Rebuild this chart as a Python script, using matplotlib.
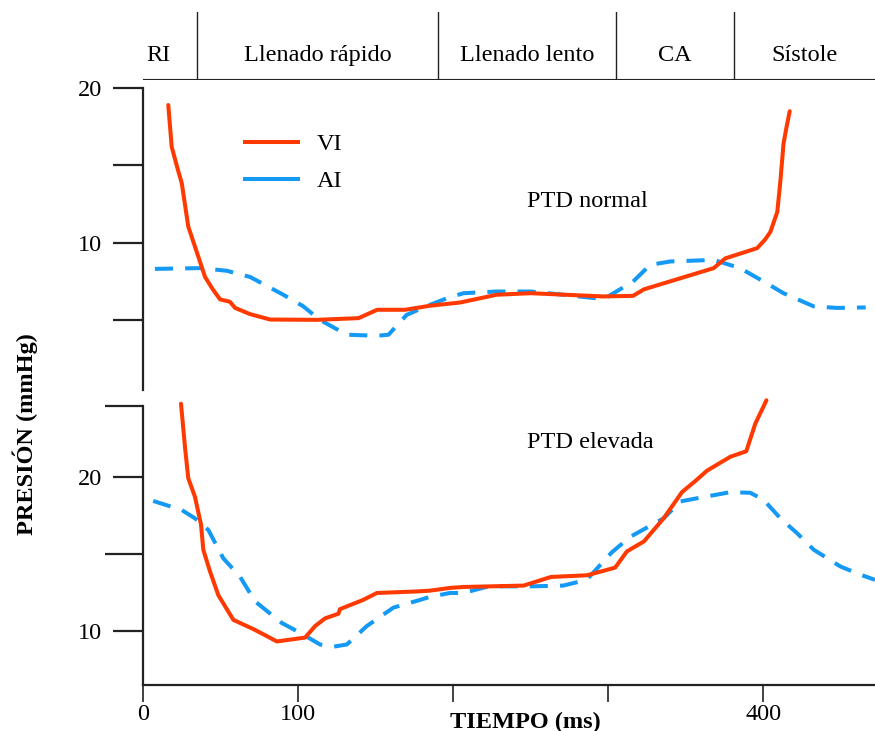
import matplotlib
matplotlib.use("Agg")
import matplotlib.pyplot as plt
from matplotlib.lines import Line2D

plt.rcParams['font.family'] = ['Liberation Serif', 'DejaVu Serif']

ROJO = '#FF3A00'
AZUL = '#1499F5'
NEGRO = '#222222'
FS = 17.5

# fases del ciclo (ms)
fases = ['RI', 'Llenado rápido', 'Llenado lento', 'CA', 'Sístole']
limites_fase = [0, 35, 190, 305, 381, 472]

# PTD normal
t_vi_n = [16.3, 18.5, 22, 25, 29.2, 35.7, 40, 45, 49.7, 56, 59.4, 69, 82, 112, 139, 151, 169,
          185, 204.5, 228, 250, 297, 316, 323, 368, 375.5, 396, 401, 404.5, 409, 411, 413, 415, 417]
p_vi_n = [18.9, 16.2, 14.9, 13.85, 11.05, 9.1, 7.8, 7.0, 6.35, 6.2, 5.8, 5.4, 5.05, 5.03, 5.14, 5.68, 5.68,
          5.94, 6.15, 6.65, 6.75, 6.54, 6.58, 7.0, 8.37, 9.0, 9.66, 10.2, 10.7, 12.0, 14.0, 16.4, 17.5, 18.5]
t_ai_n = [7.7, 36.8, 54, 69, 90.5, 103.4, 114, 131.4, 151, 158.3, 170, 185, 198, 206.7, 228, 250,
          271, 297, 316, 327, 340, 368, 385, 402, 413, 432.5, 447.5, 466]
p_ai_n = [8.32, 8.37, 8.2, 7.8, 6.65, 5.9, 5.03, 4.07, 4.0, 4.07, 5.35, 6.0, 6.5, 6.75, 6.86, 6.86,
          6.65, 6.37, 7.5, 8.58, 8.8, 8.9, 8.37, 7.4, 6.75, 5.9, 5.8, 5.83]

# PTD elevada
t_vi_e = [24.5, 27.1, 29.2, 33.5, 37.4, 38.9, 43.2, 48.6, 58.3, 71.2, 79.8, 86.3, 104.5, 111, 117.4,
          126, 127, 142, 150.8, 176.6, 185, 198, 206.7, 245.4, 263, 286.3, 304.5, 312, 323, 335.7,
          347.5, 357, 363.7, 378.7, 389, 394.8, 402]
p_vi_e = [24.75, 21.9, 19.9, 18.7, 16.9, 15.25, 13.85, 12.3, 10.7, 10.1, 9.65, 9.3, 9.55, 10.3, 10.8,
          11.1, 11.4, 12.0, 12.45, 12.55, 12.6, 12.78, 12.84, 12.93, 13.49, 13.6, 14.1, 15.15, 15.8, 17.3,
          19.0, 19.8, 20.4, 21.3, 21.66, 23.45, 24.97]
t_ai_e = [6.6, 25, 33.5, 42.1, 51.8, 62.6, 72.3, 89.5, 101.3, 114.2, 122.8, 131.4, 144.3, 161.5, 178.7,
          185, 198, 206.7, 222.8, 249.7, 271, 286, 302.4, 314.2, 335.7, 346.6, 357, 378.7, 391.6, 400.2,
          411, 421.7, 432.5, 449.7, 462.6, 472]
p_ai_e = [18.43, 17.84, 17.3, 16.55, 14.7, 13.5, 11.9, 10.5, 9.86, 9.1, 8.96, 9.1, 10.3, 11.5, 12.0,
          12.2, 12.45, 12.45, 12.88, 12.88, 12.93, 13.3, 15.1, 16.1, 17.3, 18.4, 18.6, 19.0, 18.96, 18.5,
          17.3, 16.34, 15.26, 14.17, 13.64, 13.3]

x_ticks = [0, 100, 200, 300, 400]
x_labels = ['0', '100', '', '', '400']
y_ticks_n = [5, 10, 15, 20]
y_labels_n = ['', '10', '', '20']
y_ticks_e = [10, 20]
y_labels_e = ['10', '20']
y_menores_e = [15, 24.6]

W, H = 875, 731
fig = plt.figure(figsize=(W / 100, H / 100), dpi=100)


def caja(x0, y0, x1, y1):
    # rectangulo en pixeles (origen arriba a la izquierda)
    return [x0 / W, 1 - y1 / H, (x1 - x0) / W, (y1 - y0) / H]


xmax = limites_fase[-1]
lw = 2.9
estilo_vi = dict(color=ROJO, lw=lw, solid_capstyle='round', solid_joinstyle='round')
estilo_ai = dict(color=AZUL, lw=lw, linestyle=(0, (4.5, 3)))

# cabecera con las fases
ax_h = fig.add_axes(caja(143, 12, W, 80))
ax_h.set_xlim(0, xmax)
ax_h.set_ylim(0, 1)
ax_h.axis('off')
ax_h.axhline(0, color=NEGRO, lw=1.5)
for x in limites_fase[1:-1]:
    ax_h.axvline(x, color=NEGRO, lw=1)
for i, nombre in enumerate(fases):
    if i == 0:
        ax_h.text(limites_fase[0] + 2, 0.36, nombre, ha='left', va='center', fontsize=FS)
    else:
        xm = (limites_fase[i] + limites_fase[i + 1]) / 2
        ax_h.text(xm, 0.36, nombre, ha='center', va='center', fontsize=FS)

# panel superior: PTD normal
ax1 = fig.add_axes(caja(143, 88, W, 390))
ax1.plot(t_ai_n, p_ai_n, **estilo_ai)
ax1.plot(t_vi_n, p_vi_n, **estilo_vi)
ax1.set_xlim(0, xmax)
ax1.set_ylim(0.5, 20)
ax1.set_yticks(y_ticks_n)
ax1.set_yticklabels(y_labels_n)
ax1.set_xticks([])
for s in ['top', 'right', 'bottom']:
    ax1.spines[s].set_visible(False)
ax1.spines['left'].set_linewidth(1.6)
ax1.spines['left'].set_color(NEGRO)
ax1.tick_params(axis='y', length=21.6, width=1.6, color=NEGRO, labelsize=FS, pad=8)
ax1.text(286.5, 12.66, 'PTD normal', ha='center', va='center', fontsize=FS)

handles = [Line2D([], [], color=ROJO, lw=lw), Line2D([], [], color=AZUL, lw=lw)]
ax1.legend(handles, ['VI', 'AI'], loc='upper left', bbox_to_anchor=(0.139, 0.85),
           frameon=False, fontsize=FS, handlelength=2.2, handletextpad=0.75,
           labelspacing=0.62, borderpad=0, borderaxespad=0)

# panel inferior: PTD elevada
ax2 = fig.add_axes(caja(143, 406, W, 685))
ax2.plot(t_ai_e, p_ai_e, **estilo_ai)
ax2.plot(t_vi_e, p_vi_e, clip_on=False, **estilo_vi)
ax2.set_xlim(0, xmax)
ax2.set_ylim(6.47, 24.6)
ax2.set_yticks(y_ticks_e)
ax2.set_yticklabels(y_labels_e)
ax2.set_yticks(y_menores_e, minor=True)
ax2.set_xticks(x_ticks)
ax2.set_xticklabels(x_labels)
for s in ['top', 'right']:
    ax2.spines[s].set_visible(False)
for s in ['left', 'bottom']:
    ax2.spines[s].set_linewidth(1.6)
    ax2.spines[s].set_color(NEGRO)
ax2.tick_params(axis='y', which='major', length=21.6, width=1.6, color=NEGRO, labelsize=FS, pad=8)
ax2.tick_params(axis='y', which='minor', length=27.4, width=1.6, color=NEGRO)
ax2.tick_params(axis='x', length=12, width=1.2, color=NEGRO, labelsize=FS, pad=2)
ax2.text(288.4, 22.25, 'PTD elevada', ha='center', va='center', fontsize=FS)

fig.text(525 / W, 1 - 722 / H, 'TIEMPO (ms)', ha='center', va='center',
         fontsize=FS, fontweight='bold')
fig.text(25 / W, 1 - 434 / H, 'PRESIÓN (mmHg)', ha='center', va='center',
         rotation=90, fontsize=FS, fontweight='bold')

fig.savefig('out.png', dpi=100)
